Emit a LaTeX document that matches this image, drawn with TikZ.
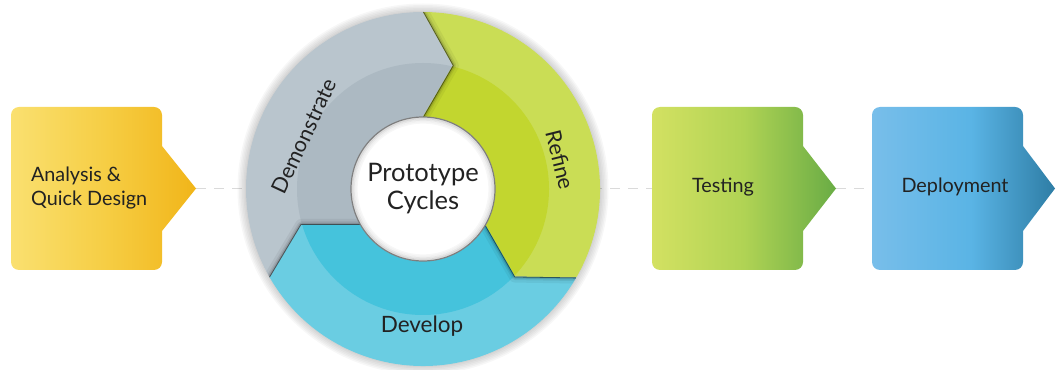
\documentclass[tikz,border=0pt]{standalone}
\usepackage{fontspec}
\setmainfont{Lato}
\definecolor{yA}{HTML}{FAE070}
\definecolor{yB}{HTML}{F6CE45}
\definecolor{yC}{HTML}{F1B519}
\definecolor{gA}{HTML}{D3E162}
\definecolor{gB}{HTML}{B0D354}
\definecolor{gC}{HTML}{69AC45}
\definecolor{bA}{HTML}{78BEEA}
\definecolor{bB}{HTML}{5AB4E5}
\definecolor{bC}{HTML}{2E7DA5}
\definecolor{grayO}{HTML}{B9C5CD}
\definecolor{grayI}{HTML}{ACB9C2}
\definecolor{greenO}{HTML}{CADD55}
\definecolor{greenI}{HTML}{C2D62F}
\definecolor{blueO}{HTML}{6ACDE2}
\definecolor{blueI}{HTML}{45C3DC}
\definecolor{txt}{HTML}{222222}
\definecolor{dashc}{HTML}{DADADA}
\pgfdeclarehorizontalshading{yshade}{100bp}{color(0bp)=(yA); color(25bp)=(yA); color(50bp)=(yB); color(75bp)=(yC); color(100bp)=(yC)}
\pgfdeclarehorizontalshading{gshade}{100bp}{color(0bp)=(gA); color(25bp)=(gA); color(50bp)=(gB); color(75bp)=(gC); color(100bp)=(gC)}
\pgfdeclarehorizontalshading{bshade}{100bp}{color(0bp)=(bA); color(25bp)=(bA); color(52bp)=(bB); color(75bp)=(bC); color(100bp)=(bC)}
\newcommand\procbox[4]{%
  \shade[shading=#4] (#1,107) -- (#1,254) arc[start angle=180,end angle=90,radius=8pt]
   -- ({#2-8},262) arc[start angle=90,end angle=0,radius=8pt]
   -- (#2,223) -- (#3,180.5) -- (#2,138) -- (#2,107)
   arc[start angle=0,end angle=-90,radius=8pt] -- ({#1+8},99)
   arc[start angle=270,end angle=180,radius=8pt] -- cycle;}
\newcommand\segpath[1]{(#1:72) arc[start angle=#1, end angle={#1-120}, radius=72pt] -- ({#1-133.6}:127) -- ({#1-120}:177) arc[start angle={#1-120}, end angle=#1, radius=177pt] -- ({#1-13.6}:127) -- cycle}
\newcommand\notchline[1]{(#1:72) -- ({#1-13.6}:127) -- (#1:177)}
\begin{document}
\begin{tikzpicture}[x=1pt,y=1pt,
  boxtext/.style={text=txt, font=\fontsize{19.8}{24.5}\selectfont},
  seglabel/.style={text=txt, font=\fontsize{21.5}{25}\selectfont},
  flowline/.style={draw=dashc, line width=1pt, dash pattern=on 10pt off 8pt}]
\useasboundingbox (0,0) rectangle (1056,369);
% tip / entry coordinates
\coordinate (tipA) at (196,180.5);
\coordinate (inT) at (652,180.5);
\coordinate (tipT) at (836,180.5);
\coordinate (inD) at (872,180.5);
\draw[flowline] (tipA) -- (inT);
\draw[flowline] (tipT) -- (inD);
% boxes
\procbox{11}{162}{196}{yshade}
\procbox{652}{803}{836}{gshade}
\procbox{872}{1023}{1055}{bshade}
\node[boxtext, anchor=west, align=left] (analysis) at (27.5,181) {Analysis \&\\Quick Design};
\node[boxtext, anchor=base] (testing) at (723,176) {Testing};
\node[boxtext, anchor=base] (deploy) at (955,176) {Deployment};
% cycle
\begin{scope}[shift={(423,180)}]
  \foreach \r in {178,179.5,181,182.5,184,185.5}
    \fill[black, opacity=0.03] (0,0) circle[radius=\r pt];
  \fill[grayO] \segpath{210};
  \begin{scope}\clip \segpath{210}; \fill[grayI] (0,0) circle[radius=126pt];\end{scope}
  \fill[greenO] \segpath{90};
  \begin{scope}\clip \segpath{90}; \fill[greenI] (0,0) circle[radius=126pt];\end{scope}
  \fill[blueO] \segpath{-30};
  \begin{scope}\clip \segpath{-30}; \fill[blueI] (0,0) circle[radius=126pt];\end{scope}
  \foreach \s in {90,-30,210}{
    \begin{scope}
      \clip \segpath{\s};
      \draw[black, opacity=0.05, line width=12pt, line join=round] \notchline{\s};
      \draw[black, opacity=0.07, line width=7pt, line join=round] \notchline{\s};
      \draw[black, opacity=0.12, line width=4pt, line join=round] \notchline{\s};
      \draw[black, opacity=0.45, line width=1.6pt, line join=round] \notchline{\s};
    \end{scope}}
  \fill[white] (0,0) circle[radius=72pt];
  \draw[black!50, line width=1.2pt] (0,0) circle[radius=72pt];
  \draw[black, opacity=0.14, line width=1.5pt] (0,0) circle[radius=70.6pt];
  \draw[black, opacity=0.09, line width=1.5pt] (0,0) circle[radius=69.1pt];
  \draw[black, opacity=0.05, line width=1.5pt] (0,0) circle[radius=67.6pt];
  \draw[black, opacity=0.03, line width=1.5pt] (0,0) circle[radius=66.1pt];
\end{scope}
\node[text=txt, font=\fontsize{25.5}{28}\selectfont, align=center] (proto) at (423,180) {Prototype\\Cycles};
\node[seglabel, rotate=65] (demo) at (304,233) {Demonstrate};
\node[seglabel, rotate=-76] (refine) at (560,209) {Refine};
\node[seglabel, font=\fontsize{22.5}{25}\selectfont, anchor=base] (develop) at (422,36) {Develop};
\end{tikzpicture}
\end{document}
